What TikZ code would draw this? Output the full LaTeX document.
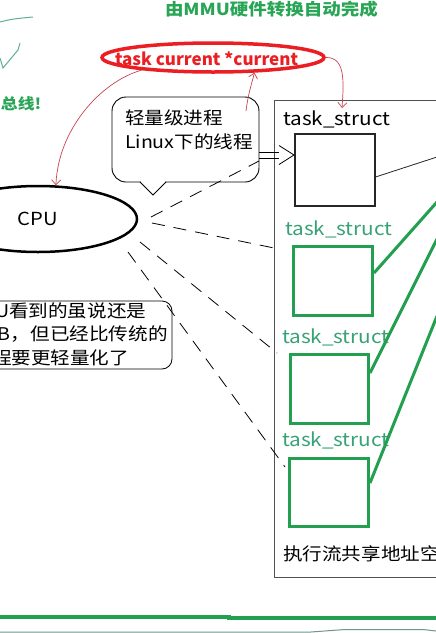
\documentclass[tikz,border=0pt]{standalone}
\usepackage{fontspec}
\setmainfont{Noto Sans CJK SC}
\usepackage{graphicx}
\usetikzlibrary{shapes.geometric,arrows.meta,calc}
\definecolor{gbox}{RGB}{34,160,80}
\definecolor{glab}{RGB}{55,162,118}
\definecolor{tgreen}{RGB}{40,165,85}
\definecolor{cred}{RGB}{235,30,35}
\definecolor{rthin}{RGB}{200,70,80}
\definecolor{sketch}{RGB}{95,175,150}
\definecolor{frame}{RGB}{80,80,80}
\definecolor{thinline}{RGB}{110,150,140}
\newcommand{\hs}[1]{\scalebox{1.12}[1]{#1}}
\newcommand{\fs}[1]{\fontsize{#1}{#1}\selectfont}
\begin{document}
\begin{tikzpicture}[x=1pt,y=-1pt,
  txt/.style={inner sep=0pt, outer sep=0pt},
  gtask/.style={draw=gbox, line width=3pt, inner sep=0pt, anchor=north west},
  glabel/.style={txt, anchor=base west, text=glab, font=\fs{18.5}},
  gline/.style={draw=gbox, line width=3pt},
  rline/.style={draw=rthin, line width=0.7pt, -{Straight Barb[length=5pt,width=9pt]}},
  dline/.style={line width=0.8pt, dash pattern=on 13pt off 9pt},
  body/.style={txt, anchor=west, font=\fs{17.5}}]
\useasboundingbox (0,0) rectangle (436,633);
\clip (0,0) rectangle (436,633);
\fill[white] (0,0) rectangle (436,633);

% sketch strokes top-left
\draw[sketch, line width=1pt] (0,22) .. controls (12,19) .. (33,17);
\draw[sketch, line width=1pt] (20,43) -- (18,50) -- (3,68) -- (0,58);

% titles
\node[txt, anchor=base west, text=tgreen, font=\fs{16.5}\bfseries] (title) at (165,15) {\hs{由MMU硬件转换自动完成}};
\node[txt, anchor=base west, text=tgreen, font=\fs{15}\bfseries] (bus) at (1,109) {\hs{总线!}};

% red current pointer
\node[draw=cred, line width=3.5pt, ellipse, minimum width=222pt, minimum height=29pt, inner sep=0pt] (cur) at (213,57.5) {};
\node[txt, anchor=base west, text=cred, font=\fs{17}\bfseries] (curtxt) at (115,65) {task current *current};

% CPU
\node[draw, line width=2.5pt, ellipse, minimum width=198pt, minimum height=66pt, inner sep=0pt, font=\fs{18}] (cpu) at (38,219) {\hs{CPU}};

% speech bubble
\node[draw, line width=0.9pt, rounded corners=14pt, minimum width=147pt, minimum height=85pt] (bubble) at (185.5,139.5) {};
\fill[white] (140.6,180.5) rectangle (165.4,184);
\draw[line width=0.9pt] (140,182) -- (153,195) -- (166,182);
\node[txt, anchor=base west, font=\fs{17.5}] (b1) at (125,124) {\hs{轻量级进程}};
\node[txt, anchor=base west, font=\fs{17.5}] (b2) at (125,148.5) {\hs{Linux下的线程}};

% note box
\node[draw, line width=0.8pt, rounded corners=10pt, minimum width=200pt, minimum height=68pt] (note) at (72,335) {};
\node[body] (n1) at (-5,311) {\hs{U看到的虽说还是}};
\node[body] (n2) at (-2,334) {\hs{B，但已经比传统的}};
\node[body] (n3) at (-8,357.5) {\hs{程要更轻量化了}};

% address space
\node[draw=frame, line width=1pt, minimum width=190pt, minimum height=477.5pt, anchor=north west, inner sep=0pt] (space) at (274,99.5) {};

\node[txt, anchor=base west, font=\fs{18.5}] (l0) at (283,125) {\hs{task\_struct}};
\node[draw=black!85, line width=1.5pt, minimum width=80pt, minimum height=72pt, inner sep=0pt, anchor=north west] (box0) at (294,133) {};

\node[glabel] (l1) at (285,235) {\hs{task\_struct}};
\node[gtask, minimum width=79pt, minimum height=69pt] (box1) at (292,245) {};
\node[glabel] (l2) at (282,343.3) {\hs{task\_struct}};
\node[gtask, minimum width=78pt, minimum height=69pt] (box2) at (289,353) {};
\node[glabel] (l3) at (282,446.7) {\hs{task\_struct}};
\node[gtask, minimum width=79pt, minimum height=68pt] (box3) at (288,457) {};

\node[body] (share) at (283,553.5) {\hs{执行流共享地址空}};

% lines to the right
\coordinate (r0) at (437,157);
\coordinate (r1) at (437,202);
\coordinate (r2) at (437,239);
\coordinate (r3) at (437,316);
\draw[line width=0.8pt, black!85] (box0.east |- 0,177) -- (r0);
\draw[gline] (box1.east |- 0,273) -- (r1);
\draw[gline] (box2.east |- 0,373) -- (r2);
\draw[gline] (box3.east |- 0,483) -- (r3);

% hollow double arrow bubble -> task
\coordinate (ah) at (279,155);
\draw[line width=0.8pt] (bubble.east |- 0,152) -- (ah |- 0,152);
\draw[line width=0.8pt] (bubble.east |- 0,158) -- (ah |- 0,158);
\draw[line width=0.8pt, line join=miter] (ah |- 0,145.5) -- (box0.west |- 0,155) -- (ah |- 0,164.5);

% red connectors
\coordinate (c2) at (246,111);
\coordinate (c3) at (342,108);
\draw[rline] (cur.190) .. controls (100,82) and (58,130) .. (cpu.62);
\draw[rline] (c2) .. controls (248,95) and (251,86) .. (cur.-20);
\draw[rline] (cur.east) .. controls (345,57) and (344,80) .. (c3);

% dashed lines CPU -> threads
\coordinate (s1) at (151,217);
\coordinate (e1) at (259,161);
\coordinate (s2) at (152,223);
\coordinate (e2) at (279,249);
\coordinate (s3) at (140,242);
\coordinate (e3) at (277,353);
\coordinate (s4) at (128,252);
\coordinate (e4) at (285,467);
\draw[dline] (s1) -- (e1);
\draw[dline] (s2) -- (e2);
\draw[dline] (s3) -- (e3);
\draw[dline] (s4) -- (e4);

% bottom lines
\draw[gbox, line width=4pt] (0,617) -- (229,617) -- (229,618) -- (436,618);
\draw[thinline, line width=1pt] (0,632) -- (311,632) -- (345,629.5) -- (423,629.5) -- (436,631);
\end{tikzpicture}
\end{document}
